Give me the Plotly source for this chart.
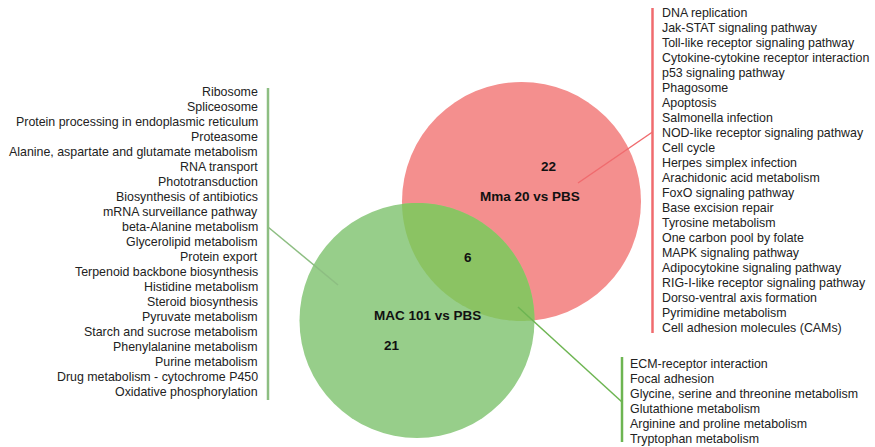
import numpy as np
import plotly.graph_objects as go

# ---- data ----
set_names = ["MAC 101 vs PBS", "Mma 20 vs PBS"]
counts = {"MAC only": 21, "shared": 6, "Mma only": 22}

mac_only_pathways = [
    "Ribosome", "Spliceosome", "Protein processing in endoplasmic reticulum",
    "Proteasome", "Alanine, aspartate and glutamate metabolism", "RNA transport",
    "Phototransduction", "Biosynthesis of antibiotics", "mRNA surveillance pathway",
    "beta-Alanine metabolism", "Glycerolipid metabolism", "Protein export",
    "Terpenoid backbone biosynthesis", "Histidine metabolism", "Steroid biosynthesis",
    "Pyruvate metabolism", "Starch and sucrose metabolism", "Phenylalanine metabolism",
    "Purine metabolism", "Drug metabolism - cytochrome P450", "Oxidative phosphorylation",
]
mma_only_pathways = [
    "DNA replication", "Jak-STAT signaling pathway", "Toll-like receptor signaling pathway",
    "Cytokine-cytokine receptor interaction", "p53 signaling pathway", "Phagosome",
    "Apoptosis", "Salmonella infection", "NOD-like receptor signaling pathway",
    "Cell cycle", "Herpes simplex infection", "Arachidonic acid metabolism",
    "FoxO signaling pathway", "Base excision repair", "Tyrosine metabolism",
    "One carbon pool by folate", "MAPK signaling pathway", "Adipocytokine signaling pathway",
    "RIG-I-like receptor signaling pathway", "Dorso-ventral axis formation",
    "Pyrimidine metabolism", "Cell adhesion molecules (CAMs)",
]
shared_pathways = [
    "ECM-receptor interaction", "Focal adhesion",
    "Glycine, serine and threonine metabolism", "Glutathione metabolism",
    "Arginine and proline metabolism", "Tryptophan metabolism",
]

# ---- layout / styles ----
W, H = 875, 447
FONT = "Liberation Sans, Arial, sans-serif"
RED = "#F48F8E"
GREEN = "#97CE8A"
LENS = "#8BC363"

red_c, red_r = (521.5, 201.5), 119.5
grn_c, grn_r = (417.0, 320.5), 117.5

fig = go.Figure()
shapes = []
annotations = []

def circle(c, r, color):
    return dict(type="circle", xref="x", yref="y", x0=c[0]-r, x1=c[0]+r,
                y0=c[1]-r, y1=c[1]+r, fillcolor=color, line=dict(width=0), layer="below")

shapes.append(circle(red_c, red_r, RED))
shapes.append(circle(grn_c, grn_r, GREEN))

# lens (intersection) path
(x1, y1), (x2, y2) = red_c, grn_c
d = np.hypot(x2 - x1, y2 - y1)
a = (red_r**2 - grn_r**2 + d**2) / (2 * d)
h = np.sqrt(red_r**2 - a**2)
ux, uy = (x2 - x1) / d, (y2 - y1) / d
px, py = x1 + a * ux, y1 + a * uy
p1 = (px + h * uy, py - h * ux)
p2 = (px - h * uy, py + h * ux)

def arc(c, r, pa, pb, toward):
    t1 = np.arctan2(pa[1] - c[1], pa[0] - c[0])
    t2 = np.arctan2(pb[1] - c[1], pb[0] - c[0])
    tt = np.arctan2(toward[1] - c[1], toward[0] - c[0])
    def norm(t):
        return (t - t1) % (2 * np.pi)
    if norm(tt) <= norm(t2):
        ts = t1 + np.linspace(0, norm(t2), 80)
    else:
        ts = t1 - np.linspace(0, 2 * np.pi - norm(t2), 80)
    return [(c[0] + r * np.cos(t), c[1] + r * np.sin(t)) for t in ts]

pts = arc(red_c, red_r, p1, p2, grn_c) + arc(grn_c, grn_r, p2, p1, red_c)
path = "M " + " L ".join(f"{x:.2f},{y:.2f}" for x, y in pts) + " Z"
shapes.append(dict(type="path", xref="x", yref="y", path=path, fillcolor=LENS,
                   line=dict(width=0), layer="below"))

def seg(xa, ya, xb, yb, color, w):
    return dict(type="line", xref="x", yref="y", x0=xa, y0=ya, x1=xb, y1=yb,
                line=dict(color=color, width=w))

shapes.append(seg(268, 88, 268, 400, "#8DBE82", 2.5))
shapes.append(seg(268, 227, 338, 285, "#8DBE82", 1.5))
shapes.append(seg(652.5, 8, 652.5, 333, "#F06B6E", 2.5))
shapes.append(seg(652.5, 132, 578, 183, "#F06B6E", 1.5))
shapes.append(seg(622, 357, 622, 442, "#6DB552", 2.5))
shapes.append(seg(622, 402, 518, 307, "#6DB552", 1.5))

LIST_FONT = dict(family=FONT, size=12.4, color="#222222")
for i, name in enumerate(mac_only_pathways):
    annotations.append(dict(x=258.5, y=91.7 + i * 15.03, text=name, xanchor="right",
                            yanchor="middle", showarrow=False, font=LIST_FONT,
                            xref="x", yref="y", borderpad=0))
for i, name in enumerate(mma_only_pathways):
    annotations.append(dict(x=661, y=13.3 + i * 15.0, text=name, xanchor="left",
                            yanchor="middle", showarrow=False, font=LIST_FONT,
                            xref="x", yref="y", borderpad=0))
for i, name in enumerate(shared_pathways):
    annotations.append(dict(x=628.5, y=364 + i * 14.9, text=name, xanchor="left",
                            yanchor="middle", showarrow=False, font=LIST_FONT,
                            xref="x", yref="y", borderpad=0))

BOLD = dict(family=FONT, size=13.5, color="#111111")
labels = [
    (548.3, 166.7, f"<b>{counts['Mma only']}</b>"),
    (530, 196.7, f"<b>{set_names[1]}</b>"),
    (468.3, 257.3, f"<b>{counts['shared']}</b>"),
    (427.3, 315, f"<b>{set_names[0]}</b>"),
    (391.7, 345, f"<b>{counts['MAC only']}</b>"),
]
for x, y, t in labels:
    annotations.append(dict(x=x, y=y, text=t, showarrow=False, font=BOLD,
                            xanchor="center", yanchor="middle", xref="x", yref="y"))

fig.add_trace(go.Scatter(x=[0, W], y=[0, H], mode="markers",
                         marker=dict(opacity=0), hoverinfo="skip", showlegend=False))

fig.update_layout(
    width=W, height=H, margin=dict(l=0, r=0, t=0, b=0),
    paper_bgcolor="white", plot_bgcolor="white",
    xaxis=dict(range=[0, W], visible=False, fixedrange=True),
    yaxis=dict(range=[H, 0], visible=False, fixedrange=True),
    shapes=shapes, annotations=annotations, showlegend=False,
)
# remove the default page margin so the figure fills the window exactly
fig.write_html(
    "out.html",
    config={"displayModeBar": False},
    post_script="document.body.style.margin='0';document.body.style.overflow='hidden';",
)
